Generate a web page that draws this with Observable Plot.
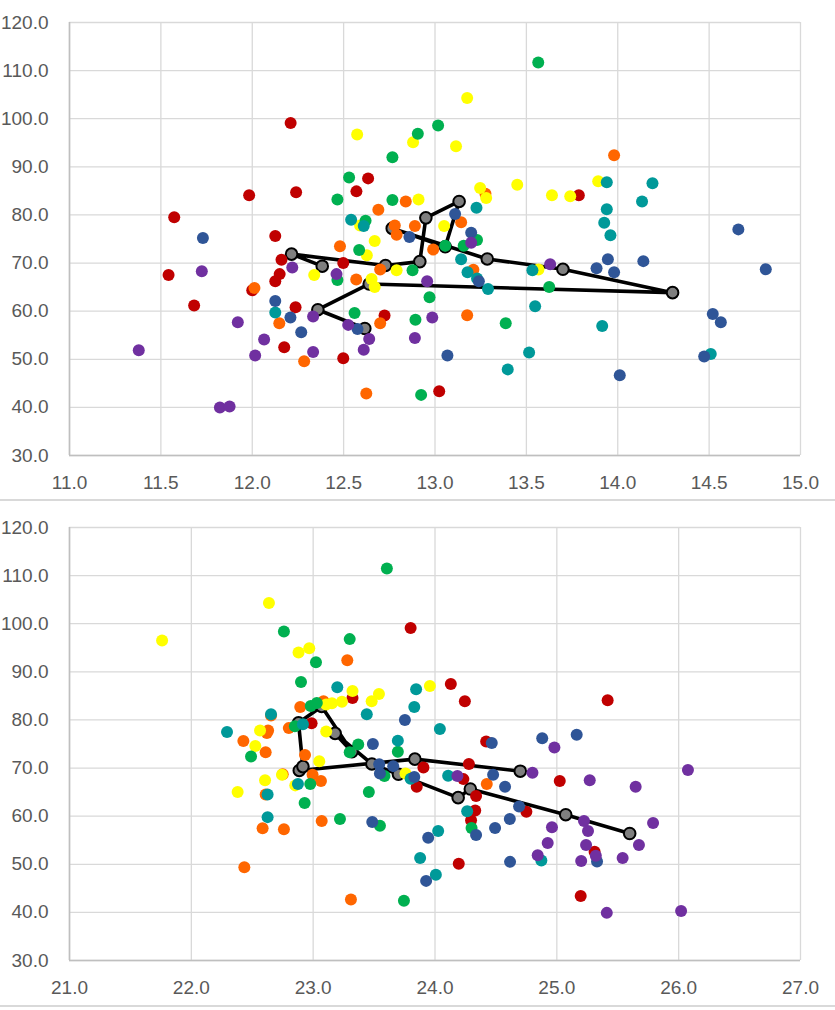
<!DOCTYPE html>
<html>
<head>
<meta charset="utf-8">
<script src="https://cdn.jsdelivr.net/npm/d3@7"></script>
<script src="https://cdn.jsdelivr.net/npm/@observablehq/plot@0.6"></script>
<style>
  html, body { margin: 0; padding: 0; background: #fff; }
  #wrap { width: 835px; }
  .sep { width: 835px; height: 2px; background: #d9d9d9; }
  svg { display: block; }
</style>
</head>
<body>
<div id="wrap"></div>
<script>
// ---- data ----
const groupNames = ["red", "orange", "yellow", "green", "teal", "blue", "purple"];
const groupColors = ["#C00000", "#FF6600", "#FFFF00", "#00B050", "#009999", "#2F5597", "#7030A0"];

const yTicks = [30, 40, 50, 60, 70, 80, 90, 100, 110, 120];
const topXTicks = [11.0, 11.5, 12.0, 12.5, 13.0, 13.5, 14.0, 14.5, 15.0];
const botXTicks = [21.0, 22.0, 23.0, 24.0, 25.0, 26.0, 27.0];

// black series (shared y, x in top and bottom chart)
const lineY    = [69.35, 71.85, 69.5, 70.3, 79.4, 82.8, 73.4, 77.2, 70.85, 68.7, 63.85, 65.65, 60.3, 56.4];
const lineXTop = [12.383, 12.215, 12.729, 12.917, 12.95, 13.132, 13.056, 12.766, 13.286, 13.70, 14.30, 12.64, 12.359, 12.616];
const lineXBot = [24.70, 23.835, 22.886, 22.916, 22.88, 23.07, 23.318, 23.18, 23.482, 23.70, 24.19, 24.29, 25.073, 25.598];

// top chart points [x, y]
const topRed = [[12.21,99.1],[12.634,87.6],[12.57,84.9],[12.24,84.7],[11.983,84.1],[11.573,79.5],[12.126,75.6],[13.787,84.1],[11.542,67.5],[11.682,61.2],[12.0,64.35],[12.16,70.7],[12.15,67.7],[12.126,66.2],[12.237,60.8],[12.175,52.5],[12.498,70.0],[12.724,59.1],[12.498,50.2],[13.023,43.35]];
const topOrange = [[12.84,82.8],[12.69,81.1],[12.78,77.8],[12.79,75.9],[12.89,77.7],[12.48,73.5],[13.98,92.4],[13.276,84.4],[13.143,78.5],[12.012,64.8],[12.148,57.5],[12.284,49.6],[12.569,66.6],[12.70,68.65],[12.70,57.5],[12.624,42.9],[13.176,59.15],[13.21,68.6],[12.99,72.8]];
const topYellow = [[12.574,96.7],[12.88,95.1],[12.91,83.2],[12.59,77.8],[12.67,74.6],[13.176,104.3],[13.115,94.3],[13.893,87.0],[13.45,86.3],[13.247,85.6],[13.28,83.5],[13.64,84.1],[13.74,83.9],[13.05,77.7],[12.339,67.5],[12.627,71.6],[12.79,68.5],[12.653,66.7],[12.67,65.0],[13.566,68.65]];
const topGreen = [[12.906,96.9],[12.767,92.0],[12.53,87.8],[12.466,83.2],[12.767,83.1],[12.62,78.8],[12.585,72.7],[13.565,111.7],[13.017,98.6],[13.23,74.8],[13.157,73.6],[13.056,73.6],[12.466,66.5],[12.877,68.5],[12.56,59.6],[12.924,42.6],[12.893,58.2],[13.625,65.0],[13.387,57.5],[12.97,62.9]];
const topTeal = [[12.541,79.0],[12.61,77.7],[13.94,86.8],[14.19,86.6],[14.133,82.8],[13.94,81.2],[13.926,78.4],[13.96,75.8],[13.227,81.5],[12.126,59.7],[13.533,68.5],[13.548,61.0],[13.915,56.9],[14.509,51.1],[13.515,51.4],[13.398,47.9],[13.143,70.8],[13.178,68.1],[13.23,66.8],[13.29,64.6]];
const topBlue = [[12.86,75.4],[11.73,75.2],[14.66,77.0],[13.11,80.2],[13.198,76.3],[13.884,68.9],[13.946,70.8],[13.98,68.1],[14.14,70.4],[14.81,68.7],[14.52,59.4],[14.564,57.7],[14.473,50.6],[14.011,46.7],[13.068,50.8],[13.24,66.2],[12.126,62.1],[12.209,58.7],[12.268,55.6],[12.576,56.3]];
const topPurple = [[13.198,74.2],[11.724,68.3],[11.379,51.9],[11.921,57.7],[11.823,40.0],[11.876,40.2],[12.016,50.8],[12.065,54.1],[12.219,69.1],[12.333,51.5],[12.333,58.9],[12.461,67.7],[12.525,57.15],[12.64,54.2],[12.61,52.0],[12.89,54.4],[13.63,69.75],[12.985,58.7],[12.957,66.2]];

// bottom chart points [x, y]
const botRed = [[23.80,99.1],[24.13,87.45],[23.323,84.55],[24.245,83.9],[25.417,84.1],[22.987,79.3],[24.42,75.5],[23.905,70.1],[24.278,70.85],[23.85,66.1],[24.233,67.7],[24.337,64.2],[25.024,67.3],[24.75,60.9],[24.33,61.2],[24.296,59.15],[24.195,50.1],[25.31,52.6],[25.196,43.4]];
const botOrange = [[23.28,92.4],[23.085,83.9],[22.894,82.7],[22.654,80.9],[22.427,75.6],[22.63,77.8],[22.62,77.3],[22.80,78.3],[22.61,73.3],[22.933,72.7],[22.995,68.6],[23.064,67.3],[22.75,68.7],[22.61,64.5],[22.585,57.5],[22.76,57.3],[23.07,59.0],[22.435,49.4],[23.31,42.7],[24.425,66.7]];
const botYellow = [[21.76,96.5],[22.637,104.3],[22.88,94.0],[22.968,94.9],[23.323,86.0],[23.54,85.4],[23.48,83.9],[23.236,83.8],[23.154,83.45],[23.107,83.2],[22.525,74.6],[22.564,77.8],[23.107,77.6],[23.958,87.05],[23.05,71.4],[22.744,68.6],[22.605,67.45],[22.38,65.0],[22.853,66.4],[23.758,68.85]];
const botGreen = [[23.605,111.5],[22.76,98.4],[23.023,92.0],[23.30,96.8],[22.90,87.9],[22.98,82.9],[23.03,83.5],[22.85,78.7],[23.37,74.9],[23.30,73.3],[22.49,72.4],[22.976,66.7],[22.93,62.75],[23.22,59.4],[23.745,42.4],[23.457,65.0],[23.548,58.0],[23.585,68.35],[23.695,73.4],[24.30,57.55]];
const botTeal = [[23.198,86.8],[23.44,81.2],[23.83,82.7],[23.845,86.4],[22.654,81.2],[22.293,77.5],[22.916,79.1],[23.695,75.7],[24.04,78.1],[22.875,66.7],[22.626,64.5],[22.626,59.8],[23.878,51.3],[23.80,67.8],[24.108,68.4],[24.264,61.0],[24.026,56.9],[24.007,47.8],[24.873,50.8]];
const botBlue = [[23.753,80.0],[23.49,75.0],[24.466,75.2],[24.88,76.2],[25.163,76.9],[23.485,58.8],[23.542,70.8],[23.548,68.85],[23.657,70.4],[23.83,68.15],[24.477,68.6],[24.575,66.1],[24.69,62.0],[24.337,56.1],[24.614,59.4],[24.493,57.55],[23.944,55.5],[24.616,50.5],[23.927,46.55],[25.33,50.6]];
const botPurple = [[24.98,74.25],[24.184,68.35],[24.80,69.0],[25.27,67.45],[25.647,66.1],[26.076,69.6],[25.223,59.0],[25.256,56.9],[24.96,57.7],[24.925,54.4],[25.24,54.0],[25.32,51.75],[25.20,50.7],[25.54,51.3],[25.674,54.0],[25.79,58.6],[24.843,51.9],[25.41,39.9],[26.02,40.3]];

const topGroups = [topRed, topOrange, topYellow, topGreen, topTeal, topBlue, topPurple];
const botGroups = [botRed, botOrange, botYellow, botGreen, botTeal, botBlue, botPurple];

// ---- drawing ----
function makeChart(xTicks, groups, lineX, height, marginTop, marginBottom) {
  const idx = d3.range(lineY.length);
  const dotMarks = groups.map((pts, gi) =>
    Plot.dot(pts, {x: d => d[0], y: d => d[1], r: 6, fill: groupColors[gi], stroke: "none"})
  );
  return Plot.plot({
    width: 835,
    height,
    marginLeft: 69,
    marginRight: 35,
    marginTop,
    marginBottom,
    style: {
      fontFamily: "'Liberation Sans', Arial, sans-serif",
      fontSize: "19px",
      color: "#595959",
      background: "#ffffff",
      overflow: "visible"
    },
    x: {
      domain: [xTicks[0], xTicks[xTicks.length - 1]],
      ticks: xTicks,
      tickFormat: d3.format(".1f"),
      tickSize: 0,
      tickPadding: 20,
      label: null
    },
    y: {
      domain: [30, 120],
      ticks: yTicks,
      tickFormat: d3.format(".1f"),
      tickSize: 0,
      tickPadding: 21,
      label: null
    },
    marks: [
      Plot.gridX(xTicks, {stroke: "#d9d9d9", strokeOpacity: 1, strokeWidth: 1.3}),
      Plot.gridY(yTicks, {stroke: "#d9d9d9", strokeOpacity: 1, strokeWidth: 1.3}),
      Plot.ruleX([xTicks[0]], {stroke: "#bfbfbf", strokeWidth: 1.6}),
      Plot.ruleY([30], {stroke: "#bfbfbf", strokeWidth: 1.6}),
      Plot.line(idx, {x: i => lineX[i], y: i => lineY[i], stroke: "#000", strokeWidth: 3.6, strokeLinejoin: "round"}),
      Plot.dot(idx, {x: i => lineX[i], y: i => lineY[i], r: 5.8, fill: "#7f7f7f", stroke: "#000", strokeWidth: 2}),
      ...dotMarks
    ]
  });
}

const wrap = document.getElementById("wrap");
wrap.appendChild(makeChart(topXTicks, topGroups, lineXTop, 499, 22, 44));
let s1 = document.createElement("div"); s1.className = "sep"; wrap.appendChild(s1);
wrap.appendChild(makeChart(botXTicks, botGroups, lineXBot, 504, 26, 45));
let s2 = document.createElement("div"); s2.className = "sep"; wrap.appendChild(s2);
</script>
</body>
</html>
